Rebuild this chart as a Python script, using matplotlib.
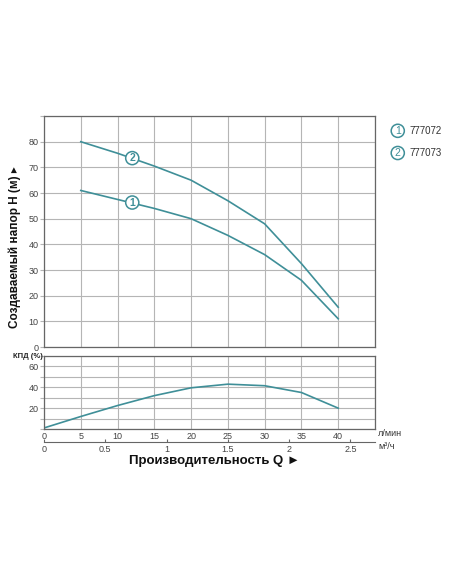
import numpy as np
import matplotlib.pyplot as plt

plt.rcParams['font.family'] = ['Liberation Sans', 'DejaVu Sans']

# head curves, H (m) vs Q (l/min)
q_head = [5, 10, 15, 20, 25, 30, 35, 40]
h_777072 = [61, 57.5, 54, 50, 43.5, 36, 26, 11]
h_777073 = [80, 75.5, 70.5, 65, 57, 48, 32.5, 15.5]

# efficiency curve, %
q_eff = [0, 5, 10, 15, 20, 25, 30, 35, 40]
eff = [1, 12, 22.5, 32, 39.5, 43, 41.5, 35, 20]

models = ['777072', '777073']
line_col = '#3f8f98'
grid_col = '#b5b5b5'
spine_col = '#666666'
tick_col = '#444444'

fig = plt.figure(figsize=(4.52, 5.84), dpi=100)
ax1 = fig.add_axes([0.0973, 0.4058, 0.7323, 0.3955])
ax2 = fig.add_axes([0.0973, 0.2654, 0.7323, 0.125])

for ax in (ax1, ax2):
    ax.set_xlim(0, 45)
    ax.set_xticks(np.arange(0, 46, 5))
    ax.grid(True, color=grid_col, linewidth=0.8)
    ax.set_axisbelow(True)
    for s in ax.spines.values():
        s.set_color(spine_col)
        s.set_linewidth(0.9)
    ax.tick_params(axis='x', length=0, labelsize=6.5, colors=tick_col, pad=2)
    ax.tick_params(axis='y', length=3, width=0.8, color=grid_col,
                   labelsize=6.5, labelcolor=tick_col, pad=1)

# top: head
ax1.set_ylim(0, 90)
ax1.set_yticks(np.arange(0, 91, 10))
ax1.set_yticklabels([str(v) if v < 90 else '' for v in range(0, 91, 10)])
ax1.set_xticklabels([])
ax1.plot(q_head, h_777072, color=line_col, linewidth=1.2)
ax1.plot(q_head, h_777073, color=line_col, linewidth=1.2)
for num, qq, hh in [(1, 12, 56.3), (2, 12, 73.6)]:
    ax1.text(qq, hh, str(num), ha='center', va='center', fontsize=7.5,
             fontweight='bold', color=line_col,
             bbox=dict(boxstyle='circle,pad=0.15', fc='white', ec=line_col, lw=1.1))
fig.text(0.033, 0.577, 'Создаваемый напор H (м) ▸', rotation=90, fontsize=8.5,
         fontweight='bold', ha='center', va='center', color='#111111')

# bottom: efficiency
ax2.set_ylim(0, 70)
ax2.set_yticks(np.arange(0, 71, 10))
ax2.set_yticklabels(['', '', '20', '', '40', '', '60', ''])
ax2.set_xticklabels([str(v) if v <= 40 else '' for v in range(0, 46, 5)])
ax2.plot(q_eff, eff, color=line_col, linewidth=1.2)
ax2.text(-0.048, 1.0, 'КПД (%)', transform=ax2.transAxes, ha='center',
         va='center', fontsize=5.5, fontweight='bold', color='#222222')

# second flow scale in m3/h
sec = ax2.secondary_xaxis(-0.178, functions=(lambda x: x * 0.06, lambda x: x / 0.06))
sec.set_xticks([0, 0.5, 1, 1.5, 2, 2.5])
sec.set_xticklabels(['0', '0.5', '1', '1.5', '2', '2.5'])
sec.spines['bottom'].set_color(spine_col)
sec.tick_params(length=2, direction='in', color=spine_col, labelsize=6.5,
                labelcolor=tick_col, pad=2)

fig.text(0.837, 0.257, 'л/мин', fontsize=6.5, color='#333333', va='center')
fig.text(0.837, 0.235, 'м³/ч', fontsize=6.5, color='#333333', va='center')
fig.text(0.475, 0.211, 'Производительность Q ►', fontsize=9.5,
         fontweight='bold', ha='center', va='center', color='#111111')

# legend
for i, (m, yy) in enumerate(zip(models, [0.776, 0.738])):
    fig.text(0.88, yy, str(i + 1), fontsize=7.5, color=line_col, ha='center',
             va='center', bbox=dict(boxstyle='circle,pad=0.15', fc='white',
                                    ec=line_col, lw=1.1))
    fig.text(0.907, yy, m, fontsize=7, color='#333333', va='center')

fig.savefig('out.png', dpi=100)
